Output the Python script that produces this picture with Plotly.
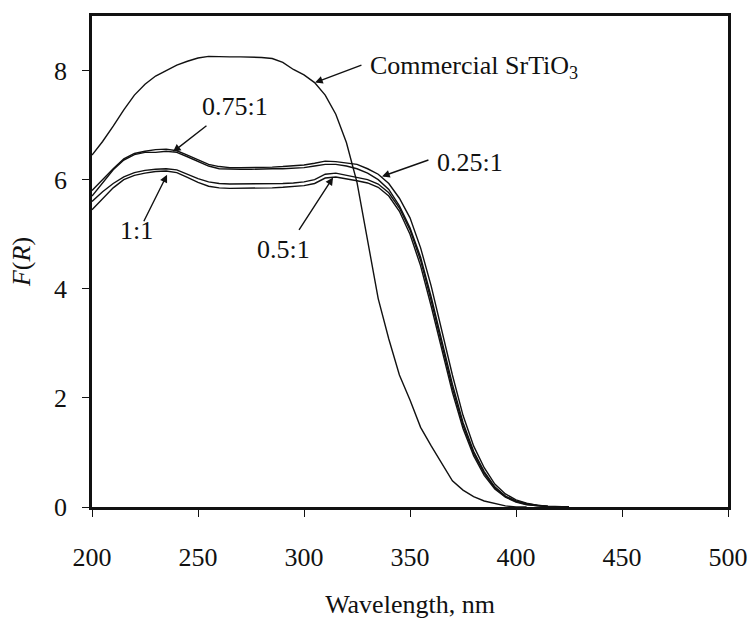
import plotly.graph_objects as go

# ---------------- data ----------------
wl_commercial = [200, 205, 210, 215, 220, 225, 230, 235, 240, 245, 250, 255, 260, 265, 270, 275,
                 280, 285, 290, 295, 300, 305, 310, 315, 320, 325, 330, 335, 340, 345, 350, 355,
                 360, 365, 370, 375, 380, 385, 390, 395, 400, 405]
fr_commercial = [6.45, 6.70, 6.98, 7.28, 7.55, 7.75, 7.90, 8.00, 8.10, 8.17, 8.23, 8.26, 8.25, 8.25,
                 8.25, 8.25, 8.24, 8.22, 8.15, 8.02, 7.92, 7.78, 7.55, 7.20, 6.68, 5.95, 4.85, 3.82,
                 3.08, 2.42, 1.96, 1.46, 1.12, 0.80, 0.48, 0.31, 0.19, 0.11, 0.06, 0.02, 0.0, 0.0]

wl_samples = [200, 205, 210, 215, 220, 225, 230, 235, 240, 245, 250, 255, 260, 265, 270, 275, 280,
              285, 290, 295, 300, 305, 310, 315, 320, 325, 330, 335, 340, 345, 350, 355, 360, 365,
              370, 375, 380, 385, 390, 395, 400, 405, 410, 415, 420, 425]
fr_025 = [5.80, 6.00, 6.20, 6.38, 6.48, 6.52, 6.55, 6.56, 6.53, 6.45, 6.36, 6.28, 6.24, 6.22, 6.22,
          6.22, 6.23, 6.23, 6.24, 6.25, 6.27, 6.30, 6.34, 6.33, 6.30, 6.28, 6.20, 6.10, 5.93, 5.66,
          5.30, 4.75, 4.05, 3.25, 2.42, 1.68, 1.12, 0.72, 0.42, 0.24, 0.13, 0.07, 0.03, 0.015, 0.005, 0.0]
fr_075 = [5.70, 5.95, 6.18, 6.36, 6.46, 6.50, 6.50, 6.52, 6.50, 6.42, 6.33, 6.25, 6.20, 6.19, 6.19,
          6.19, 6.20, 6.20, 6.20, 6.21, 6.22, 6.25, 6.28, 6.28, 6.25, 6.20, 6.12, 6.00, 5.82, 5.52,
          5.12, 4.58, 3.85, 3.05, 2.25, 1.55, 1.02, 0.65, 0.37, 0.20, 0.11, 0.06, 0.03, 0.01, 0.0, 0.0]
fr_05 = [5.60, 5.78, 5.93, 6.05, 6.13, 6.17, 6.19, 6.20, 6.18, 6.10, 6.02, 5.96, 5.93, 5.92, 5.92,
         5.92, 5.92, 5.93, 5.93, 5.94, 5.96, 6.00, 6.10, 6.12, 6.08, 6.05, 6.00, 5.92, 5.76, 5.48,
         5.08, 4.52, 3.78, 2.98, 2.18, 1.50, 0.98, 0.62, 0.35, 0.19, 0.10, 0.05, 0.02, 0.01, 0.0, 0.0]
fr_1 = [5.45, 5.65, 5.85, 6.00, 6.08, 6.12, 6.15, 6.16, 6.13, 6.04, 5.95, 5.88, 5.85, 5.84, 5.84,
        5.84, 5.84, 5.85, 5.86, 5.87, 5.89, 5.93, 6.03, 6.05, 6.02, 5.98, 5.94, 5.86, 5.70, 5.42,
        5.00, 4.42, 3.68, 2.90, 2.10, 1.44, 0.94, 0.58, 0.33, 0.18, 0.09, 0.04, 0.02, 0.01, 0.0, 0.0]

x_ticks = [200, 250, 300, 350, 400, 450, 500]
y_ticks = [0, 2, 4, 6, 8]

FONT = "Liberation Serif"
INK = "#111111"

fig = go.Figure()
series = [
    ("Commercial SrTiO3", wl_commercial, fr_commercial),
    ("0.25:1", wl_samples, fr_025),
    ("0.75:1", wl_samples, fr_075),
    ("0.5:1", wl_samples, fr_05),
    ("1:1", wl_samples, fr_1),
]
for name, xs, ys in series:
    fig.add_trace(go.Scatter(x=xs, y=ys, mode="lines", name=name,
                             line=dict(color=INK, width=1.4), showlegend=False))

# labels with arrows: (text, text_x, text_y, xanchor, tail_x, tail_y, head_x, head_y)
labels = [
    ("Commercial SrTiO<sub>3</sub>", 330.2, 8.06, "left", 327.8, 8.11, 305.2, 7.78),
    ("0.75:1", 267.5, 7.34, "center", 254.7, 7.01, 238.2, 6.51),
    ("1:1", 221.0, 5.06, "center", 224.1, 5.21, 235.4, 6.09),
    ("0.5:1", 290.1, 4.72, "center", 297.2, 5.05, 313.7, 6.04),
    ("0.25:1", 378.3, 6.31, "center", 359.4, 6.37, 336.8, 6.06),
]
for text, tx, ty, xa, ax, ay, hx, hy in labels:
    fig.add_annotation(x=hx, y=hy, ax=ax, ay=ay, xref="x", yref="y", axref="x", ayref="y",
                       text="", showarrow=True, arrowhead=2, arrowsize=1.1, arrowwidth=1.4,
                       arrowcolor=INK, standoff=0, startstandoff=0)
    fig.add_annotation(x=tx, y=ty, xref="x", yref="y", text=text, showarrow=False,
                       xanchor=xa, yanchor="middle", font=dict(family=FONT, size=26, color=INK))

fig.update_xaxes(range=[200, 500], tickmode="array", tickvals=x_ticks,
                 ticktext=[str(v) for v in x_ticks], automargin=False,
                 title=dict(text="Wavelength, nm", standoff=26,
                            font=dict(family=FONT, size=26, color=INK)),
                 showline=True, linecolor=INK, linewidth=2.5, mirror=True,
                 ticks="outside", ticklen=7, tickwidth=1, tickcolor=INK,
                 showgrid=False, zeroline=False, ticklabelstandoff=18,
                 tickfont=dict(family=FONT, size=26, color=INK))
fig.update_yaxes(range=[0, 9], tickmode="array", tickvals=y_ticks,
                 ticktext=[str(v) for v in y_ticks], automargin=False,
                 title=dict(text="<i>F</i>(<i>R</i>)", standoff=16,
                            font=dict(family=FONT, size=26, color=INK)),
                 showline=True, linecolor=INK, linewidth=2.5, mirror=True,
                 ticks="outside", ticklen=7, tickwidth=1, tickcolor=INK,
                 showgrid=False, zeroline=False, ticklabelstandoff=10,
                 tickfont=dict(family=FONT, size=26, color=INK))

fig.update_layout(width=752, height=619, margin=dict(l=92, r=24, t=16, b=112),
                  paper_bgcolor="white", plot_bgcolor="white",
                  font=dict(family=FONT, color=INK))

fig.write_html("out.html")
